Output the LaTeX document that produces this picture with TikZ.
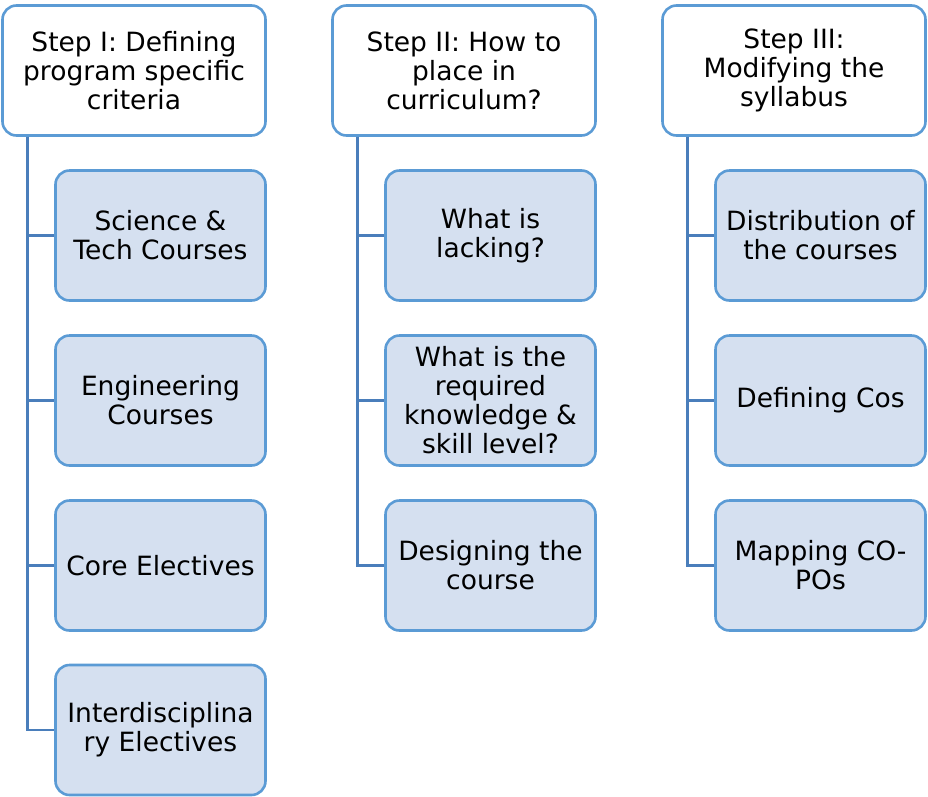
\documentclass[tikz,border=0pt]{standalone}
\usepackage{fontspec}
\setmainfont{DejaVu Sans}
\definecolor{boxline}{HTML}{5B9BD5}
\definecolor{conn}{HTML}{4A7EBB}
\definecolor{childfill}{HTML}{D5E0F0}
\begin{document}
\begin{tikzpicture}[x=1pt,y=-1pt,
  hdr/.style={draw=boxline, line width=2.6pt, fill=white, rounded corners=14pt,
    minimum width=263pt, minimum height=130pt, align=center, inner sep=0pt,
    font=\fontsize{26.5}{29}\selectfont},
  child/.style={draw=boxline, line width=2.6pt, fill=childfill, rounded corners=14pt,
    minimum width=210pt, minimum height=130pt, align=center, inner sep=0pt,
    font=\fontsize{26.5}{29}\selectfont},
  link/.style={draw=conn, line width=2.8pt}]
\useasboundingbox (0,0) rectangle (928,796);
% headers
\node[hdr] (h1) at (134,70.5) {Step I: Defining\\program specific\\criteria};
\node[hdr] (h2) at (464,70.5) {Step II: How to\\place in\\curriculum?};
\node[hdr] (h3) at (794,70.5) {Step III:\\Modifying the\\syllabus};
% children column 1
\node[child] (a1) at (160.5,235.5) {Science \&\\Tech Courses};
\node[child] (a2) at (160.5,400.5) {Engineering\\Courses};
\node[child] (a3) at (160.5,565.5) {Core Electives};
\node[child] (a4) at (160.5,730) {Interdisciplina\\ry Electives};
% column 2
\node[child] (b1) at (490.5,235.5) {What is\\lacking?};
\node[child] (b2) at (490.5,400.5) {What is the\\required\\knowledge \&\\skill level?};
\node[child] (b3) at (490.5,565.5) {Designing the\\course};
% column 3
\node[child] (c1) at (820.5,235.5) {Distribution of\\the courses};
\node[child] (c2) at (820.5,400.5) {Defining Cos};
\node[child] (c3) at (820.5,565.5) {Mapping CO-\\POs};
% connectors
\foreach \h/\c in {h1/a1,h1/a2,h1/a3,h1/a4,h2/b1,h2/b2,h2/b3,h3/c1,h3/c2,h3/c3}{
  \draw[link] (\h.south west) ++(26,0) |- (\c.west);
}
\end{tikzpicture}
\end{document}
